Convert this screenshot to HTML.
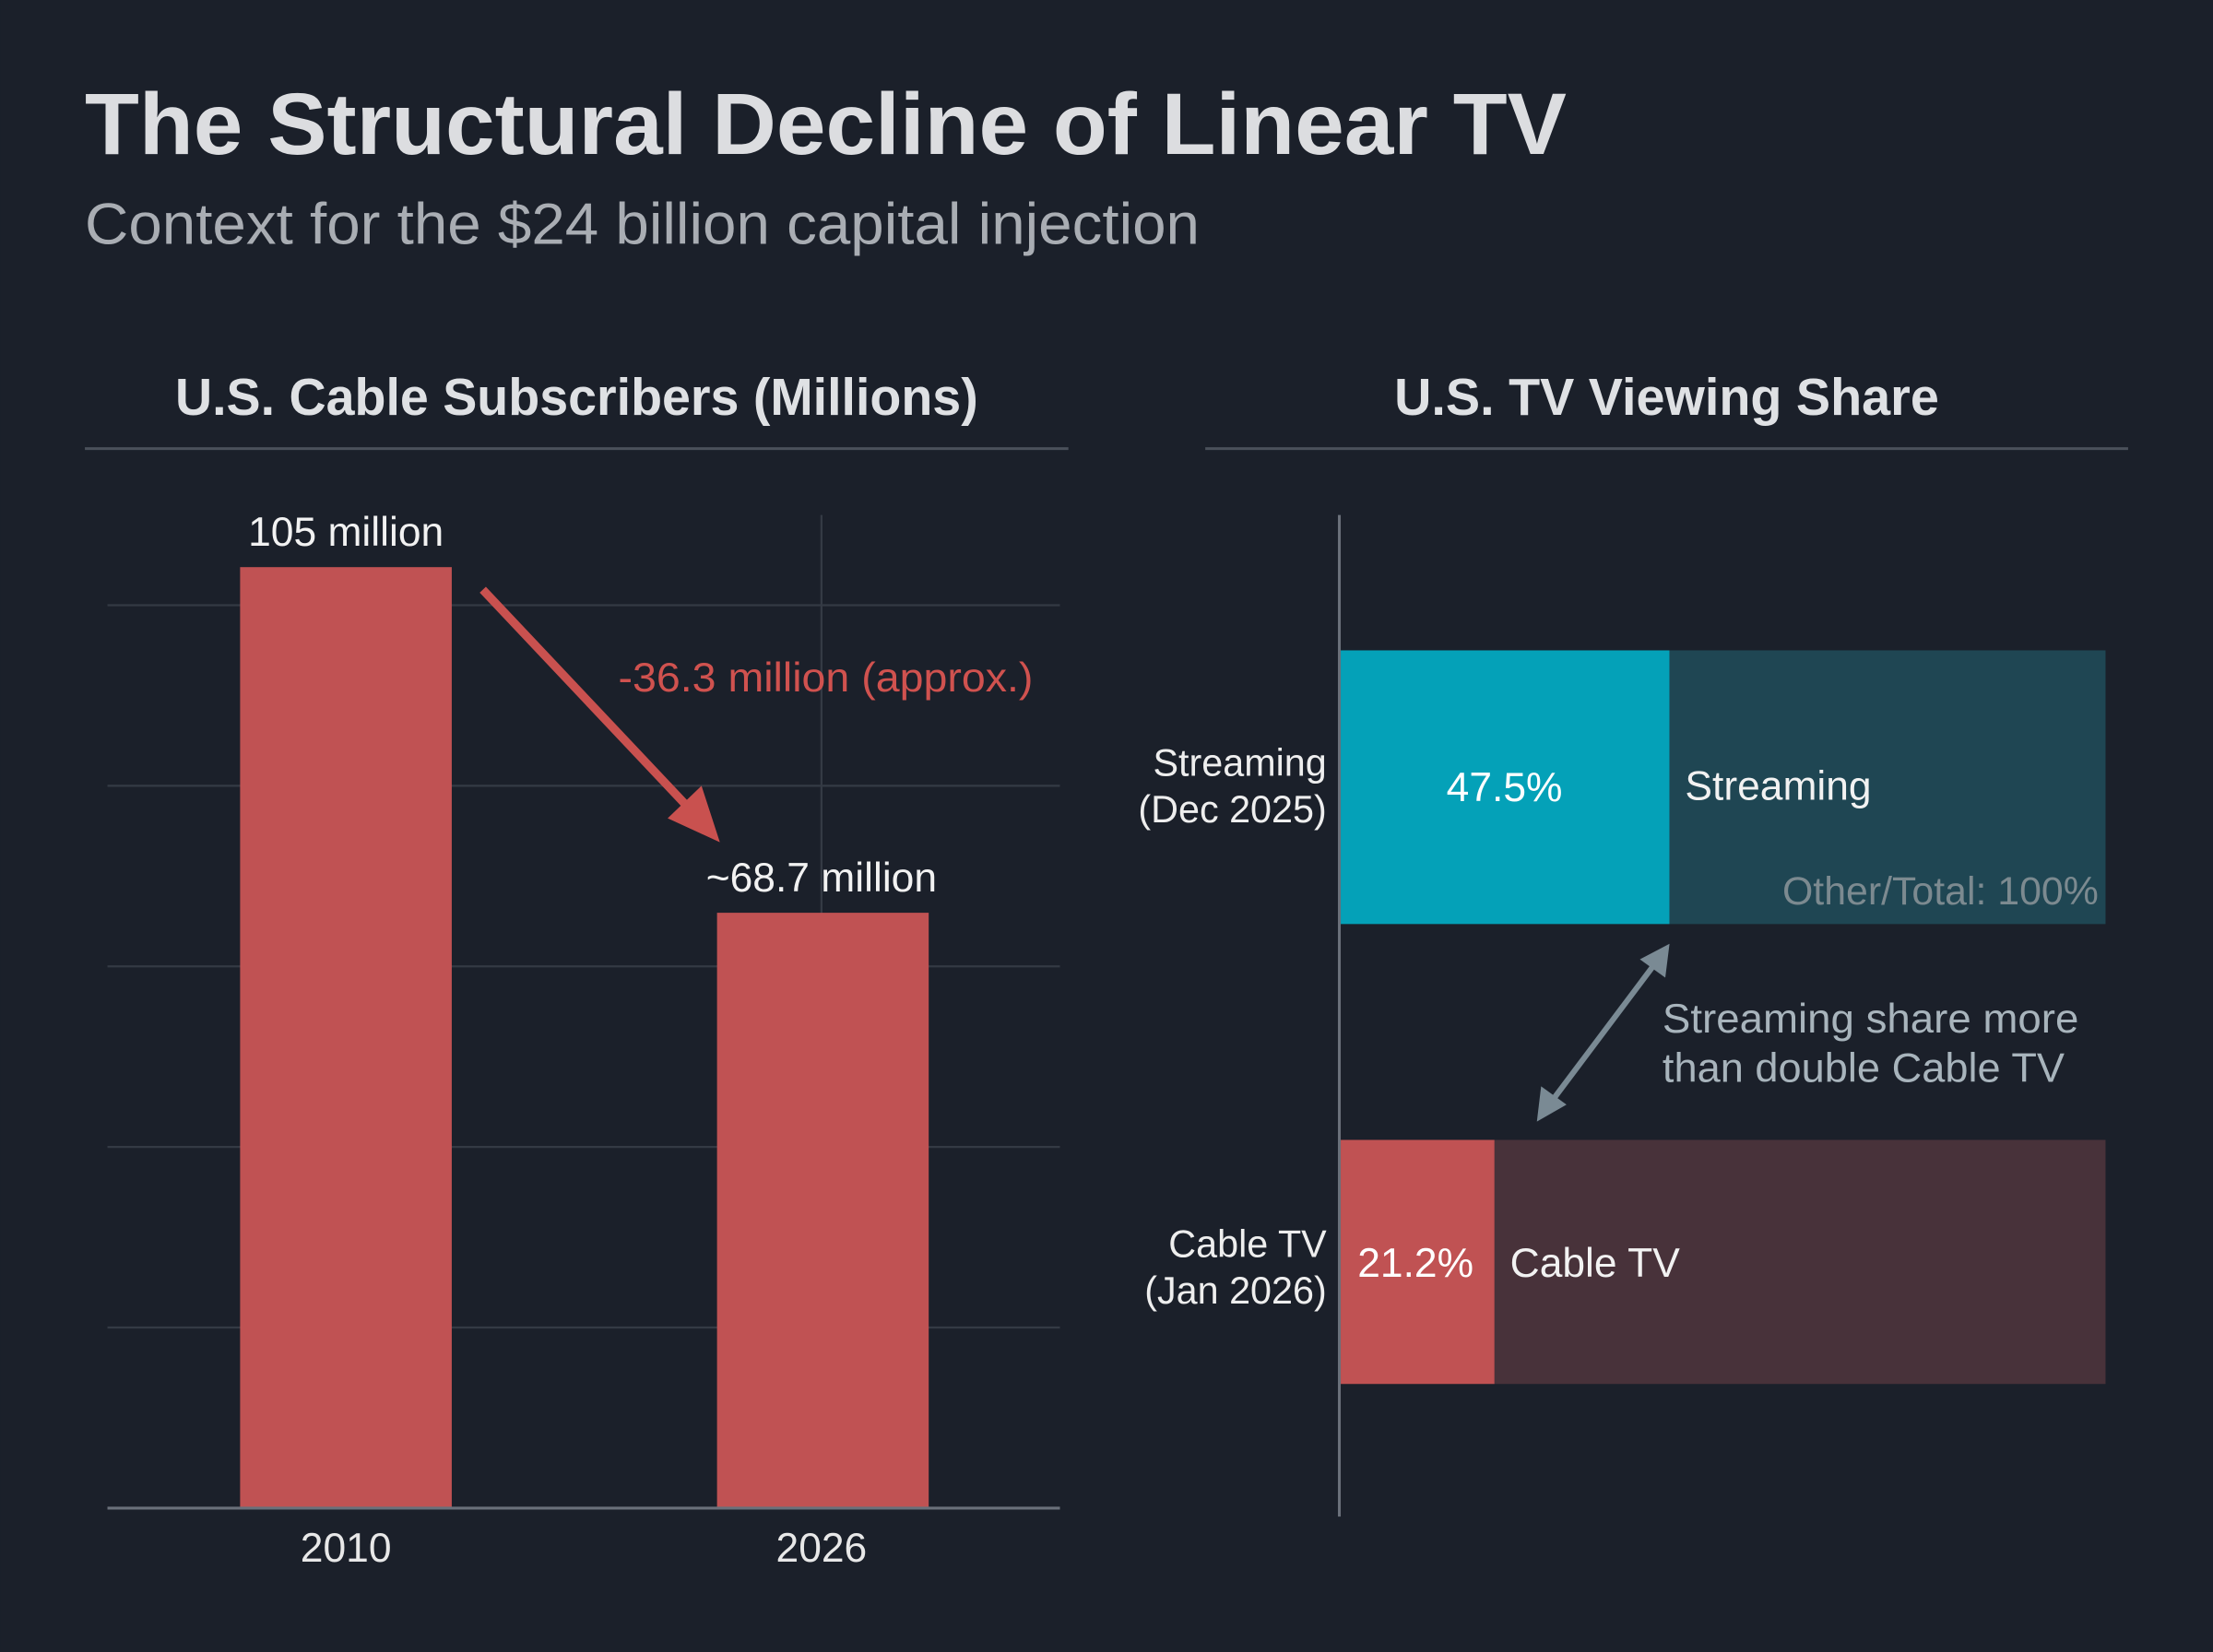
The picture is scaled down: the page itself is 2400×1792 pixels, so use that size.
<!DOCTYPE html>
<html><head><meta charset="utf-8"><style>
html,body{margin:0;padding:0;background:#1b202a;}
svg{display:block;}
text{font-family:"Liberation Sans",sans-serif;}
</style></head><body>
<svg width="2400" height="1792" viewBox="0 0 1568 1171" xmlns="http://www.w3.org/2000/svg">
<rect width="1568" height="1171" fill="#1b202a"/>
<text x="60" y="109" font-size="62" font-weight="bold" fill="#dcdde0" textLength="1050" lengthAdjust="spacingAndGlyphs">The Structural Decline of Linear TV</text>
<text x="60" y="173" font-size="41" fill="#a9adb3" textLength="790" lengthAdjust="spacingAndGlyphs">Context for the $24 billion capital injection</text>

<text x="124" y="294" font-size="37" font-weight="bold" fill="#dfe1e4" textLength="569" lengthAdjust="spacingAndGlyphs">U.S. Cable Subscribers (Millions)</text>
<line x1="60" y1="318" x2="757" y2="318" stroke="#4a505a" stroke-width="2"/>
<text x="988" y="294" font-size="37" font-weight="bold" fill="#dfe1e4" textLength="386" lengthAdjust="spacingAndGlyphs">U.S. TV Viewing Share</text>
<line x1="854" y1="318" x2="1508" y2="318" stroke="#4a505a" stroke-width="2"/>

<g stroke="#343a44" stroke-width="1.5">
<line x1="76" y1="429" x2="751" y2="429"/>
<line x1="76" y1="557" x2="751" y2="557"/>
<line x1="76" y1="685" x2="751" y2="685"/>
<line x1="76" y1="813" x2="751" y2="813"/>
<line x1="76" y1="941" x2="751" y2="941"/>
<line x1="582" y1="365" x2="582" y2="1069"/>
</g>
<rect x="170" y="402" width="150" height="667" fill="#c05253"/>
<rect x="508" y="647" width="150" height="422" fill="#c05253"/>
<line x1="76" y1="1069" x2="751" y2="1069" stroke="#6a707a" stroke-width="2"/>
<text x="245" y="387" font-size="29" fill="#f2f2f2" text-anchor="middle">105 million</text>
<text x="582" y="632" font-size="29" fill="#f2f2f2" text-anchor="middle">~68.7 million</text>
<text x="245" y="1107" font-size="29" fill="#e8e8e8" text-anchor="middle">2010</text>
<text x="582" y="1107" font-size="29" fill="#e8e8e8" text-anchor="middle">2026</text>
<line x1="342" y1="418" x2="492" y2="577" stroke="#c9514f" stroke-width="6"/>
<polygon points="510,597 473,580 497,557" fill="#c9514f"/>
<text x="585" y="490" font-size="29" fill="#d0524f" text-anchor="middle" textLength="294" lengthAdjust="spacingAndGlyphs">-36.3 million (approx.)</text>

<line x1="949" y1="365" x2="949" y2="1075" stroke="#6a707a" stroke-width="2"/>
<rect x="950" y="461" width="233" height="194" fill="#04a1b8"/>
<rect x="1183" y="461" width="309" height="194" fill="#1f4653"/>
<text x="1066" y="568" font-size="29" fill="#ffffff" text-anchor="middle">47.5%</text>
<text x="1194" y="567" font-size="29" fill="#f2f2f2">Streaming</text>
<text x="1487" y="641" font-size="28" fill="#7c8a90" text-anchor="end">Other/Total: 100%</text>
<rect x="950" y="808" width="109" height="173" fill="#c05253"/>
<rect x="1059" y="808" width="433" height="173" fill="#48323a"/>
<text x="1003" y="905" font-size="29" fill="#ffffff" text-anchor="middle">21.2%</text>
<text x="1070" y="905" font-size="29" fill="#f2f2f2">Cable TV</text>
<text x="940" y="550" font-size="27" fill="#eeeeee" text-anchor="end">Streaming</text>
<text x="940" y="583" font-size="27" fill="#eeeeee" text-anchor="end">(Dec 2025)</text>
<text x="940" y="891" font-size="27" fill="#eeeeee" text-anchor="end">Cable TV</text>
<text x="940" y="924" font-size="27" fill="#eeeeee" text-anchor="end">(Jan 2026)</text>
<line x1="1172" y1="684" x2="1100" y2="780" stroke="#7a8a94" stroke-width="4"/>
<polygon points="1183,669 1162,680 1180,693" fill="#7a8a94"/>
<polygon points="1089,795 1092,770 1110,783" fill="#7a8a94"/>
<text x="1178" y="732" font-size="29" fill="#a8b4bc" textLength="295" lengthAdjust="spacingAndGlyphs">Streaming share more</text>
<text x="1178" y="767" font-size="29" fill="#a8b4bc" textLength="285" lengthAdjust="spacingAndGlyphs">than double Cable TV</text>
</svg>
</body></html>
